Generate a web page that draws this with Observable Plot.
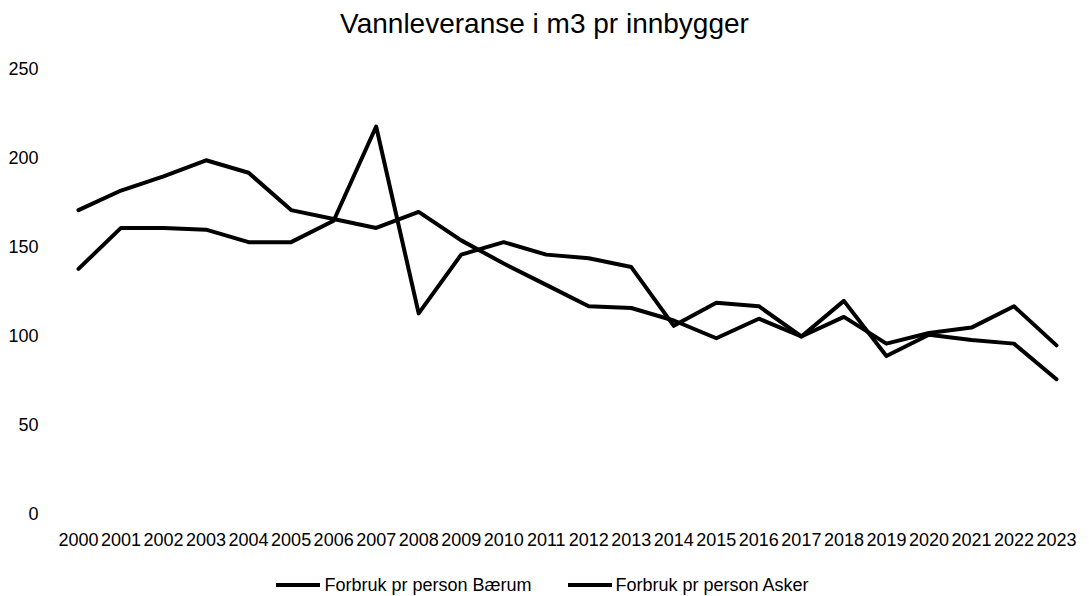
<!DOCTYPE html>
<html><head><meta charset="utf-8">
<script src="https://cdn.jsdelivr.net/npm/d3@7"></script>
<script src="https://cdn.jsdelivr.net/npm/@observablehq/plot@0.6"></script>
<style>
body{margin:0;background:#fff;font-family:"Liberation Sans",Arial,sans-serif;}
#title{height:55px;line-height:48px;text-align:center;font-size:28px;color:#000;}
#chart svg{display:block}
#legend{display:flex;justify-content:center;align-items:center;height:26px;font-size:18px;color:#000;margin-top:7px;margin-left:-4px}
.item{display:flex;align-items:center;margin:0 18px}
.sw{width:44px;height:4px;background:#000;margin-right:4px}
</style></head><body>
<div id="title">Vannleveranse i m3 pr innbygger</div>
<div id="chart"></div>
<div id="legend"></div>
<script>
const years = [2000,2001,2002,2003,2004,2005,2006,2007,2008,2009,2010,2011,2012,2013,2014,2015,2016,2017,2018,2019,2020,2021,2022,2023];
const baerum = [171,182,190,199,192,171,166,161,170,154,141,129,117,116,109,99,110,100,111,96,102,105,117,95];
const asker  = [138,161,161,160,153,153,165,218,113,146,153,146,144,139,106,119,117,100,120,89,101,98,96,76];
const seriesNames = ["Forbruk pr person Bærum","Forbruk pr person Asker"];
const yTicks = [0,50,100,150,200,250];

const data = [];
years.forEach((y,i)=>{
  data.push({year:y, value:baerum[i], s:seriesNames[0]});
  data.push({year:y, value:asker[i], s:seriesNames[1]});
});

const plot = Plot.plot({
  width:1089, height:510,
  marginLeft:78, marginRight:33, marginTop:14, marginBottom:51,
  style:{fontFamily:"Liberation Sans, Arial, sans-serif", fontSize:"18px", color:"#000", background:"#fff", overflow:"visible"},
  x:{domain:[2000,2023], ticks:years, tickFormat:d=>String(d), tickSize:0, tickPadding:19, label:null},
  y:{domain:[0,250], ticks:yTicks, tickSize:0, tickPadding:40, label:null},
  marks:[
    Plot.line(data,{x:"year", y:"value", z:"s", stroke:"#000", strokeWidth:4, strokeLinejoin:"round"})
  ]
});
document.getElementById("chart").appendChild(plot);

const lg = document.getElementById("legend");
seriesNames.forEach(n=>{
  const it=document.createElement("div"); it.className="item";
  const sw=document.createElement("div"); sw.className="sw";
  const t=document.createElement("span"); t.textContent=n;
  it.appendChild(sw); it.appendChild(t); lg.appendChild(it);
});
</script></body></html>
